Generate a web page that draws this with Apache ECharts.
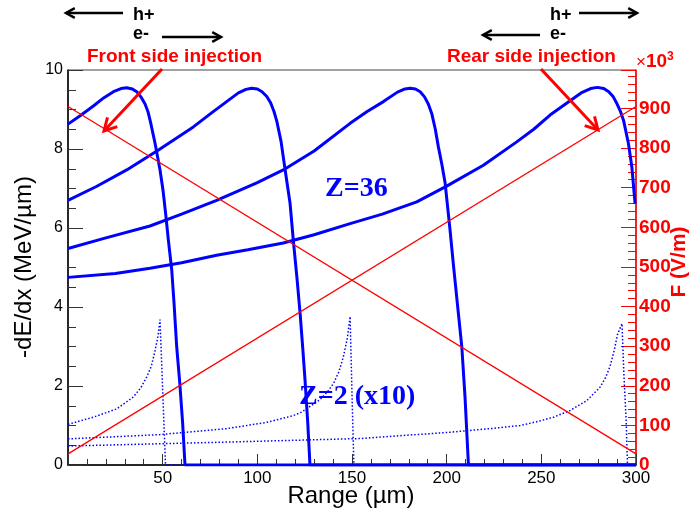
<!DOCTYPE html>
<html><head><meta charset="utf-8">
<script src="https://cdn.jsdelivr.net/npm/echarts@6/dist/echarts.min.js"></script>
<style>html,body{margin:0;padding:0;background:#fff}#c{width:689px;height:512px}</style>
</head><body><div id="c"></div>
<script>
// ---- data ----
// Z=36 Bragg curves, -dE/dx (MeV/um) vs range (um)
const z36a = [[0,8.63],[6.6,8.85],[13.4,9.09],[19,9.3],[24,9.45],[28,9.53],[31,9.55],[34,9.52],[36.5,9.44],[38.8,9.3],[40.7,9.14],[42.2,8.95],[43.5,8.7],[46,8.14],[48.6,7.47],[50.2,6.95],[51.6,6.35],[53,5.7],[54.8,4.93],[56,4.1],[57.4,3.0],[59,2.1],[60.5,1.1],[61.8,0],[300,0]];
const z36b = [[0,6.70],[15,7.05],[31,7.47],[48,7.98],[66.2,8.56],[76,8.92],[83.8,9.2],[90,9.42],[94,9.51],[97,9.54],[100,9.52],[102.5,9.45],[105,9.33],[107,9.17],[108.8,8.95],[110.2,8.72],[112.5,8.2],[114.6,7.5],[117.3,6.62],[119,5.69],[121,4.7],[122.6,3.83],[124,2.95],[125.2,2.14],[126.6,1.1],[127.8,0],[300,0]];
const z36c = [[0,5.48],[20,5.75],[43.3,6.05],[60,6.35],[78.5,6.7],[100,7.15],[113.7,7.47],[130,7.95],[149,8.65],[158,8.95],[166.6,9.2],[174,9.44],[178,9.52],[180.7,9.54],[183.5,9.52],[186,9.45],[188.3,9.32],[190.3,9.14],[192.1,8.9],[194,8.5],[195.6,8.06],[197.5,7.6],[199.2,7.13],[201.8,5.94],[203.5,5.1],[205.3,4.25],[208,2.99],[209.7,1.72],[211.5,0],[300,0]];
const z36d = [[0,4.75],[25,4.85],[43.3,4.98],[60,5.12],[78.5,5.31],[95,5.45],[113.7,5.62],[130,5.83],[149,6.11],[166,6.35],[184.2,6.66],[200,7.06],[219.4,7.59],[237,8.18],[246,8.5],[254.6,8.86],[265.2,9.22],[271,9.42],[276,9.53],[279.6,9.56],[283,9.53],[285.6,9.45],[288,9.32],[289.9,9.15],[291.8,8.95],[293.4,8.73],[296,8.14],[297.8,7.55],[299.5,6.62]];
// Z=2 curves (x10)
const z2a = [[0,1.03],[13.4,1.21],[25.7,1.42],[34.5,1.72],[38.5,1.96],[41.6,2.23],[44,2.5],[46,2.9],[47.5,3.25],[48.6,3.68],[50,1.9],[51.5,0],[300,0]];
const z2b = [[0,0.66],[48.6,0.77],[83.8,0.92],[105,1.08],[119,1.25],[123.4,1.34],[133,1.65],[137,1.85],[140.2,2.06],[143,2.35],[145.4,2.73],[147.5,3.2],[149,3.76],[150,1.8],[151,0],[300,0]];
const z2c = [[0,0.48],[83.8,0.58],[154.3,0.67],[201.8,0.83],[225,0.93],[238.8,1.0],[248,1.1],[256.4,1.21],[265.2,1.38],[274,1.63],[281,1.97],[284,2.22],[286.3,2.5],[288.5,2.9],[290.2,3.3],[292.6,3.58],[293.6,2.3],[294.8,1.13],[295.5,0],[300,0]];
// Electric field F (V/m, x10^3), right axis
const fieldFront = [[0,905],[300,28]];
const fieldRear = [[0,28],[300,905]];
// axis settings
const xRange = [0, 300], xStep = 50;
const yRange = [0, 10], yStep = 2;
const fRange = [0, 997], fStep = 100;

const SANS = '"Liberation Sans", Arial, sans-serif';
const SERIF = '"Liberation Serif", "Times New Roman", serif';
const BLUE = '#0000ff', RED = '#ff0000';

function arrow(x1, y1, x2, y2, color, w, h) {
  const a = Math.atan2(y2 - y1, x2 - x1), sp = 0.5;
  return [
    {type:'line', z:100, shape:{x1, y1, x2, y2}, style:{stroke:color, lineWidth:w}},
    {type:'polyline', z:100, shape:{points:[[x2 - h*Math.cos(a - sp), y2 - h*Math.sin(a - sp)], [x2, y2], [x2 - h*Math.cos(a + sp), y2 - h*Math.sin(a + sp)]]},
     style:{stroke:color, lineWidth:w, fill:'none', lineJoin:'miter'}}
  ];
}
function txt(text, x, y, color, font, align, rot) {
  return {type:'text', z:100, x, y, rotation:rot||0, style:{text, x:0, y:0, fill:color, font, align:align||'left', textAlign:align||'left', verticalAlign:'middle', textVerticalAlign:'middle'}};
}

const chart = echarts.init(document.getElementById('c'), null, {renderer:'canvas'});
const thick = c => ({type:'line', data:c, yAxisIndex:0, symbol:'none', lineStyle:{color:BLUE, width:3}, z:3, silent:true});
const dotted = c => ({type:'line', data:c, yAxisIndex:0, symbol:'none', lineStyle:{color:BLUE, width:1.5, type:[1.5,2]}, z:2, silent:true});
const field = c => ({type:'line', data:c, yAxisIndex:1, symbol:'none', lineStyle:{color:RED, width:1.3}, z:4, silent:true});

chart.setOption({
  animation:false,
  backgroundColor:'#fff',
  grid:{left:68, right:53, top:70, bottom:47, outerBoundsMode:'none', containLabel:false, show:true, borderColor:'#444', borderWidth:1, backgroundColor:'transparent'},
  xAxis:{type:'value', min:xRange[0], max:xRange[1], interval:xStep,
    axisLine:{lineStyle:{color:'#000', width:1.5}},
    axisTick:{inside:true, length:11, lineStyle:{color:'#333'}},
    minorTick:{show:true, splitNumber:5, length:6, lineStyle:{color:'#333'}},
    splitLine:{show:false},
    axisLabel:{showMinLabel:false, fontFamily:SANS, fontSize:17, color:'#000', margin:5}},
  yAxis:[
    {type:'value', position:'left', min:yRange[0], max:yRange[1], interval:yStep,
     axisLine:{show:true, lineStyle:{color:'#000', width:1.5}},
     axisTick:{show:true, inside:true, length:15, lineStyle:{color:'#333'}},
     minorTick:{show:true, splitNumber:4, length:8, lineStyle:{color:'#333'}},
     splitLine:{show:false},
     axisLabel:{fontFamily:SANS, fontSize:16, color:'#000', margin:5}},
    {type:'value', position:'right', min:fRange[0], max:fRange[1], interval:fStep,
     axisLine:{show:true, lineStyle:{color:RED, width:1.5}},
     axisTick:{show:true, inside:true, length:15, lineStyle:{color:RED}},
     minorTick:{show:true, splitNumber:5, length:8, lineStyle:{color:RED}},
     splitLine:{show:false},
     axisLabel:{showMaxLabel:false, fontFamily:SANS, fontSize:19, fontWeight:'bold', color:RED, margin:3}}
  ],
  series:[
    dotted(z2a), dotted(z2b), dotted(z2c),
    thick(z36a), thick(z36b), thick(z36c), thick(z36d),
    field(fieldFront), field(fieldRear)
  ],
  graphic:[].concat(
    arrow(123, 13, 66, 13, '#000', 2.5, 10),
    arrow(162, 37, 221, 37, '#000', 2.5, 10),
    arrow(579, 13, 637, 13, '#000', 2.5, 10),
    arrow(540, 35, 483, 35, '#000', 2.5, 10),
    arrow(162, 69, 104, 131, RED, 3, 14),
    arrow(541, 69, 598, 130, RED, 3, 14),
    [
      txt('Range (\u00b5m)', 351, 496, '#000', '24px ' + SANS, 'center'),
      txt('-dE/dx (MeV/\u00b5m)', 24, 267, '#000', '24px ' + SANS, 'center', Math.PI/2),
      txt('F (V/m)', 679, 262, RED, 'bold 21px ' + SANS, 'center', Math.PI/2),
      txt('h+', 133, 15, '#000', 'bold 18px ' + SANS),
      txt('e-', 133, 34, '#000', 'bold 18px ' + SANS),
      txt('h+', 550, 15, '#000', 'bold 18px ' + SANS),
      txt('e-', 550, 34, '#000', 'bold 18px ' + SANS),
      txt('Front side injection', 87, 57, RED, 'bold 19px ' + SANS),
      txt('Rear side injection', 447, 57, RED, 'bold 19px ' + SANS),
      txt('Z=36', 325, 189, BLUE, 'bold 28px ' + SERIF),
      txt('Z=2 (x10)', 299, 397, BLUE, 'bold 28px ' + SERIF),
      {type:'text', z:100, style:{x:636, y:62, text:'{a|\u00d7}{b|10}{c|3}', verticalAlign:'middle', textVerticalAlign:'middle',
        rich:{a:{fontFamily:SANS, fontSize:17, color:RED, fill:RED}, b:{fontFamily:SANS, fontSize:19, fontWeight:'bold', color:RED, fill:RED},
              c:{fontFamily:SANS, fontSize:12, fontWeight:'bold', color:RED, fill:RED, verticalAlign:'top', padding:[0,0,10,0]}}}}
    ]
  )
});
</script></body></html>
